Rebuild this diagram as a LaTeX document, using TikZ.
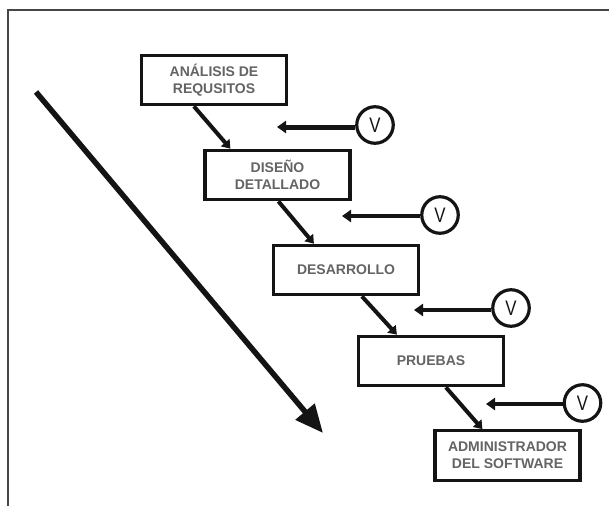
\documentclass[tikz,border=0pt]{standalone}
\usepackage{fontspec}
\setmainfont{Liberation Sans}
\usetikzlibrary{arrows.meta}
\definecolor{txtgray}{RGB}{100,100,100}
\definecolor{ink}{RGB}{20,20,20}
\definecolor{framegray}{RGB}{70,70,70}
\tikzset{
  stage/.style={draw=ink, line width=3.2pt, fill=white, minimum width=145pt, minimum height=49.5pt,
    inner sep=0pt, align=center, text=txtgray, font=\bfseries\fontsize{14}{17}\selectfont},
  vnode/.style={circle, draw=ink, line width=3.2pt, fill=white, minimum size=36.5pt, inner sep=0pt,
    font=\fontsize{21}{21}\selectfont, text=ink},
  flow/.style={draw=ink, line width=4pt, -{Triangle[length=8pt,width=11pt]}},
  check/.style={draw=ink, line width=4.5pt, -{Triangle[length=9pt,width=12pt]}},
  bigarrow/.style={draw=ink, line width=5.5pt, -{Triangle[length=28pt,width=24pt]}},
}
\begin{document}
\begin{tikzpicture}[x=1pt,y=-1pt]
\useasboundingbox (0,0) rectangle (609,506);
\fill[white] (0,0) rectangle (609,506);
% frame (top and left edges)
\draw[framegray, line width=2pt] (8.3,506) -- (8.3,9.5) -- (609,9.5);

% stages
\node[stage] (b1) at (214,80) {ANÁLISIS DE\\REQUSITOS};
\node[stage] (b2) at (277.5,175) {DISEÑO\\DETALLADO};
\node[stage] (b3) at (346,270) {DESARROLLO};
\node[stage] (b4) at (431,361) {PRUEBAS};
\node[stage] (b5) at (507.5,455.5) {ADMINISTRADOR\\DEL SOFTWARE};

% connectors
\draw[flow] ([xshift=54pt]b1.south west) -- ([xshift=27pt]b2.north west);
\draw[flow] ([xshift=75pt]b2.south west) -- ([xshift=42pt]b3.north west);
\draw[flow] ([xshift=90pt]b3.south west) -- ([xshift=40pt]b4.north west);
\draw[flow] ([xshift=89pt]b4.south west) -- ([xshift=49pt]b5.north west);

% verification circles
\node[vnode] (v1) at (375,125) {\scalebox{0.8}[1]{V}};
\node[vnode] (v2) at (440,215) {\scalebox{0.8}[1]{V}};
\node[vnode] (v3) at (511,308) {\scalebox{0.8}[1]{V}};
\node[vnode] (v4) at (582.5,403) {\scalebox{0.8}[1]{V}};
\coordinate (t1) at (277,127);
\coordinate (t2) at (342,216);
\coordinate (t3) at (414,310);
\coordinate (t4) at (486,404);
\draw[check, line width=5pt] (v1.west |- t1) -- (t1);
\draw[check] (v2.west |- t2) -- (t2);
\draw[check] (v3.west |- t3) -- (t3);
\draw[check] (v4.west |- t4) -- (t4);

% big diagonal arrow
\coordinate (s0) at (36,92);
\coordinate (s1) at (323,433);
\draw[bigarrow] (s0) -- (s1);
\end{tikzpicture}
\end{document}
